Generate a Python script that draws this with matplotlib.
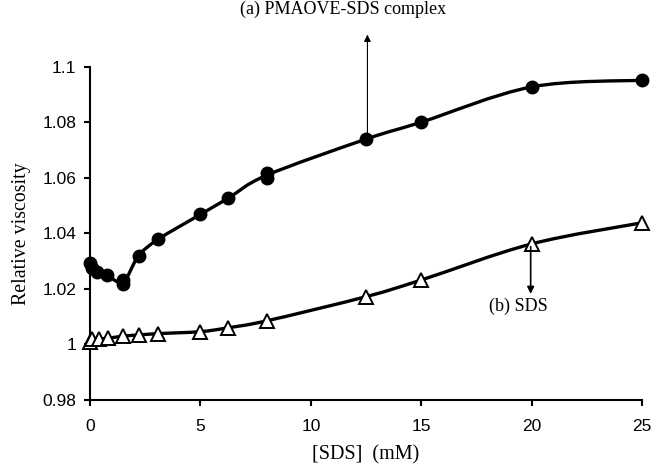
import numpy as np
import matplotlib
matplotlib.use("Agg")
from matplotlib import pyplot as plt
from matplotlib.path import Path
from matplotlib.patches import PathPatch

# (a) PMAOVE-SDS complex
sds_a = [0, 0.1, 0.3, 0.75, 1.5, 1.5, 2.2, 3.1, 5.0, 6.25, 8.0, 8.0, 12.5, 15.0, 20.0, 25.0]
visc_a = [1.0292, 1.0275, 1.0262, 1.0250, 1.0218, 1.0233, 1.0319, 1.0379, 1.0468, 1.0526,
          1.0600, 1.0618, 1.0739, 1.0800, 1.0927, 1.0951]

# (b) SDS
sds_b = [0, 0.1, 0.4, 0.8, 1.5, 2.2, 3.1, 5.0, 6.25, 8.0, 12.5, 15.0, 20.0, 25.0]
visc_b = [1.0008, 1.0018, 1.0020, 1.0022, 1.0030, 1.0034, 1.0039, 1.0046, 1.0060, 1.0085,
          1.0172, 1.0232, 1.0362, 1.0438]


def smooth_path(xs, ys, tension=0.5):
    # excel-like smoothed line: cubic bezier through averaged points
    ux = sorted(set(xs))
    uy = [np.mean([y for x, y in zip(xs, ys) if x == u]) for u in ux]
    pts = np.column_stack([ux, uy])
    n = len(pts)
    verts = [pts[0]]
    codes = [Path.MOVETO]
    for i in range(n - 1):
        p0 = pts[i - 1] if i > 0 else pts[i]
        p1 = pts[i]
        p2 = pts[i + 1]
        p3 = pts[i + 2] if i + 2 < n else pts[i + 1]
        c1 = p1 + (p2 - p0) * tension / 3
        c2 = p2 - (p3 - p1) * tension / 3
        verts += [c1, c2, p2]
        codes += [Path.CURVE4] * 3
    return Path(verts, codes)


fig = plt.figure(figsize=(6.52, 4.66), dpi=100)
ax = fig.add_axes([0.138, 0.1416, 0.847, 0.7155])

for xs, ys in [(sds_a, visc_a), (sds_b, visc_b)]:
    ax.add_patch(PathPatch(smooth_path(xs, ys), facecolor='none', edgecolor='black',
                           lw=2.4, zorder=2))

ax.plot(sds_a, visc_a, 'o', color='black', ms=9, zorder=3, clip_on=False)
ax.plot(sds_b, visc_b, '^', mfc='white', mec='black', mew=1.4, ms=10, zorder=3, clip_on=False)

ax.set_xlim(0, 25)
ax.set_ylim(0.98, 1.1)
ax.set_xticks([0, 5, 10, 15, 20, 25])
ax.set_yticks([0.98, 1.0, 1.02, 1.04, 1.06, 1.08, 1.1])
ax.set_yticklabels(['0.98', '1', '1.02', '1.04', '1.06', '1.08', '1.1'])
ax.spines['top'].set_visible(False)
ax.spines['right'].set_visible(False)
for s in ['left', 'bottom']:
    ax.spines[s].set_linewidth(1.5)
ax.tick_params(direction='out', length=4, width=1.5, labelsize=12.5)
ax.tick_params(axis='x', pad=10)
ax.tick_params(axis='y', pad=6)
for lab in ax.get_xticklabels() + ax.get_yticklabels():
    lab.set_family('Liberation Sans')

serif = 'Liberation Serif'
ax.set_ylabel('Relative viscosity', family=serif, fontsize=14.3, labelpad=8)
ax.set_xlabel('[SDS]  (mM)', family=serif, fontsize=14.5, labelpad=8)

ax.annotate('', xy=(12.56, 1.1125), xytext=(12.56, 1.0739),
            arrowprops=dict(arrowstyle='-|>', color='black', lw=0.8, mutation_scale=10),
            annotation_clip=False)
ax.text(11.45, 1.1175, '(a) PMAOVE-SDS complex', family=serif, fontsize=13,
        ha='center', va='bottom', clip_on=False)

ax.annotate('', xy=(19.95, 1.0172), xytext=(19.95, 1.0362),
            arrowprops=dict(arrowstyle='-|>', color='black', lw=1.2, mutation_scale=10))
ax.text(19.4, 1.0136, '(b) SDS', family=serif, fontsize=13, ha='center', va='center')

fig.savefig('out.png', dpi=100)
